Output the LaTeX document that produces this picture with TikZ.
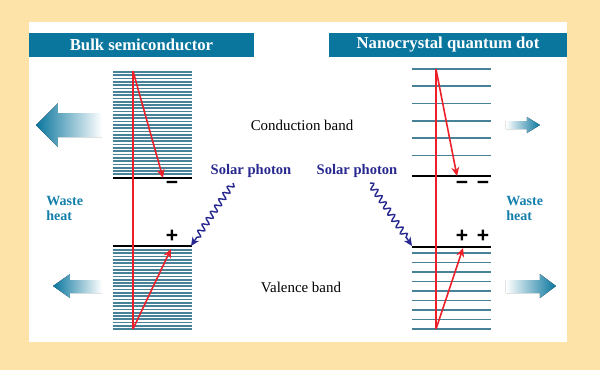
\documentclass[tikz,border=0pt]{standalone}
\usepackage{fontspec}
\setmainfont{Liberation Serif}
\newfontfamily\signfont{Liberation Sans}
\usetikzlibrary{arrows.meta,decorations.pathmorphing}
\definecolor{bgorange}{RGB}{253,227,168}
\definecolor{headblue}{RGB}{10,118,158}
\definecolor{heatblue}{RGB}{22,128,172}
\definecolor{bandteal}{RGB}{72,130,152}
\definecolor{photonblue}{RGB}{40,40,145}
\definecolor{exred}{RGB}{236,30,40}

\begin{document}
\begin{tikzpicture}[
x=0.02cm,
y=-0.02cm,
head/.style={
fill=headblue,
text=white,
font=\fontsize{9.5}{11}\selectfont\bfseries,
minimum height=0.48cm,
inner sep=0pt
},
bandlab/.style={
font=\fontsize{8.5}{10}\selectfont
},
heat/.style={
font=\fontsize{8}{8.5}\selectfont\bfseries,
color=heatblue,
align=left,
inner sep=0pt
},
phlab/.style={
font=\fontsize{8.3}{10}\selectfont\bfseries,
color=photonblue
},
sign/.style={
font=\fontsize{12}{12}\signfont\bfseries,
inner sep=0pt
},
bandline/.style={
line width=1pt,
color=bandteal
},
edgeline/.style={
line width=0.9pt,
color=black
},
jump/.style={
-{Stealth[length=5pt,width=4.5pt]},
line width=0.9pt,
color=exred
},
photon/.style={
-{Stealth[length=5pt,width=4.5pt]},
line width=0.8pt,
color=photonblue,
decorate,
decoration={snake,amplitude=1.7pt,segment length=4.3pt,post length=4pt}
}
]

\useasboundingbox (0,0) rectangle (600,370);
\fill[bgorange] (0,0) rectangle (600,370);
\fill[white] (29,22) rectangle (567,342);

% headers
\node[head,minimum width=4.5cm] (hbulk) at (141.5,45) {Bulk semiconductor};
\node[head,minimum width=4.76cm] (hdot) at (448,45) {Nanocrystal quantum dot};

% bulk semiconductor bands
\foreach \i in {0,...,31}
\draw[bandline] (113,72+3.3*\i) -- (192,72+3.3*\i);
\foreach \i in {0,...,24}
\draw[bandline] (113,250+3.3*\i) -- (192,250+3.3*\i);
\draw[edgeline] (113,178) -- (192,178);
\draw[edgeline] (113,246) -- (192,246);

% quantum dot levels
\foreach \i in {0,...,5}
\draw[bandline] (412,69+17.3*\i) -- (491,69+17.3*\i);
\foreach \i in {0,...,8}
\draw[bandline] (412,253+9.5*\i) -- (491,253+9.5*\i);
\draw[edgeline] (412,176) -- (491,176);
\draw[edgeline] (412,247) -- (491,247);

% carriers
\coordinate (bTop) at (133,71);
\coordinate (bBot) at (133,329);
\coordinate (bCB) at (163,178);
\coordinate (bVB) at (171,249);
\coordinate (qTop) at (436,69);
\coordinate (qBot) at (436,329);
\coordinate (qCB) at (457,176);
\coordinate (qVB) at (463,248);

\draw[exred,line width=1pt] (bTop) -- (bBot);
\draw[jump] (bTop) -- (bCB);
\draw[jump] (bBot) -- (bVB);
\draw[exred,line width=1pt] (qTop) -- (qBot);
\draw[jump] (qTop) -- (qCB);
\draw[jump] (qBot) -- (qVB);

\node[sign] (m1) at (172,185) {−};
\node[sign] (p1) at (172,236) {+};
\node[sign] (m2) at (462,185) {−};
\node[sign] (m3) at (483,185) {−};
\node[sign] (p2) at (462,236) {+};
\node[sign] (p3) at (483,236) {+};

% band labels
\node[bandlab] (cband) at (302,125) {Conduction band};
\node[bandlab] (vband) at (301,287) {Valence band};

% solar photons
\node[phlab] (phl) at (251,171) {Solar photon};
\node[phlab] (phr) at (357,171) {Solar photon};
\coordinate (phlS) at (233,183);
\coordinate (phlE) at (191,246);
\coordinate (phrS) at (370,183);
\coordinate (phrE) at (412,246);
\draw[photon] (phlS) -- (phlE);
\draw[photon] (phrS) -- (phrE);

% waste heat
\node[heat,anchor=north west] (heatl) at (46,196) {Waste\\heat};
\node[heat,anchor=north west] (heatr) at (506,196) {Waste\\heat};

\fill[left color=headblue,right color=white]
(102,113) -- (58,113) -- (58,103) -- (36,125) -- (58,147) -- (58,137) -- (102,137) -- cycle;
\fill[left color=headblue,right color=white]
(102,280) -- (70,280) -- (70,274) -- (53,286) -- (70,298) -- (70,293) -- (102,293) -- cycle;
\fill[left color=white,right color=headblue]
(506,121) -- (527,121) -- (527,117) -- (540,125) -- (527,133) -- (527,129) -- (506,129) -- cycle;
\fill[left color=white,right color=headblue]
(506,280) -- (540,280) -- (540,274) -- (556,286) -- (540,298) -- (540,293) -- (506,293) -- cycle;

\end{tikzpicture}
\end{document}
